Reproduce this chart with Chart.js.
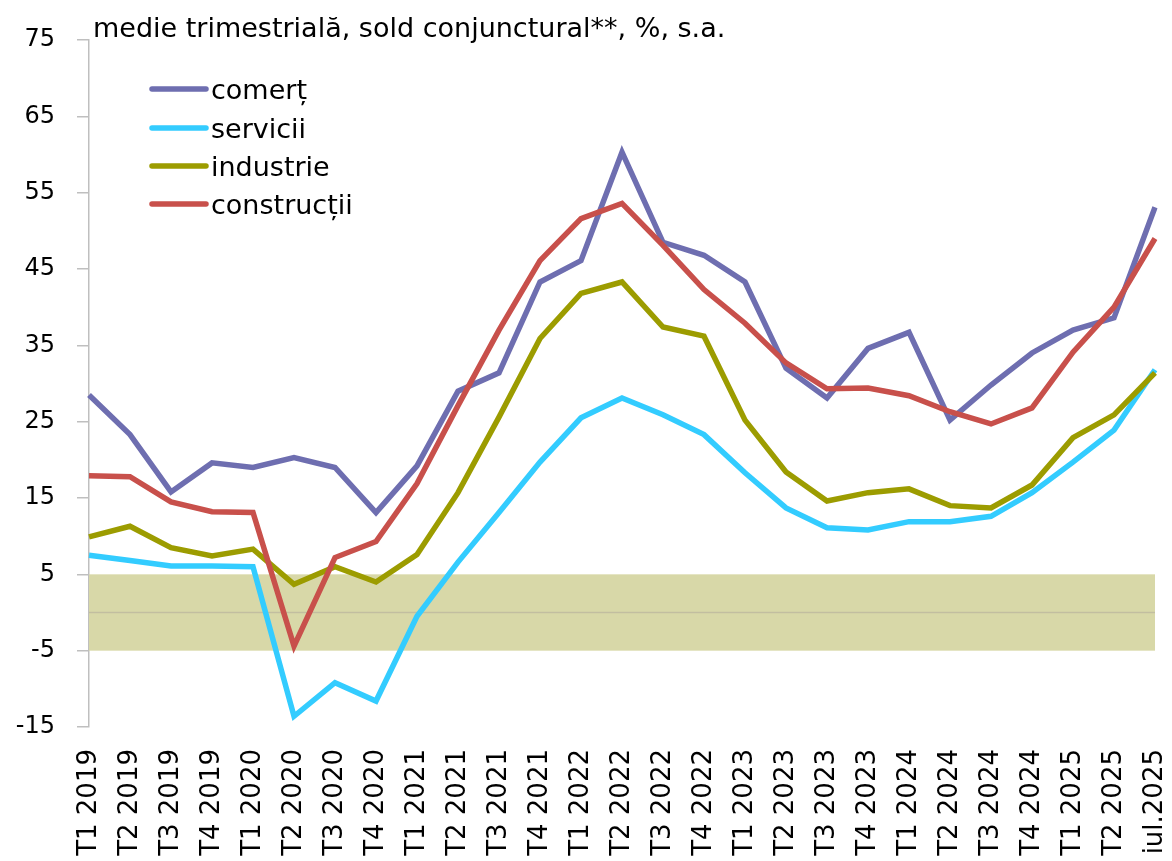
<!DOCTYPE html>
<html>
<head>
<meta charset="utf-8">
<script src="https://cdn.jsdelivr.net/npm/chart.js@4"></script>
<style>
html,body{margin:0;padding:0;background:#fff;}
#wrap{width:1172px;height:861px;position:relative;}
</style>
</head>
<body>
<div id="wrap"><canvas id="c" width="1172" height="861"></canvas></div>
<script>
const categories = ["T1 2019","T2 2019","T3 2019","T4 2019","T1 2020","T2 2020","T3 2020","T4 2020","T1 2021","T2 2021","T3 2021","T4 2021","T1 2022","T2 2022","T3 2022","T4 2022","T1 2023","T2 2023","T3 2023","T4 2023","T1 2024","T2 2024","T3 2024","T4 2024","T1 2025","T2 2025","iul.2025"];
const comert = [28.5,23.3,15.8,19.6,19.0,20.3,19.0,13.1,19.2,29.0,31.4,43.3,46.1,60.3,48.5,46.8,43.3,32.0,28.1,34.6,36.7,25.2,29.8,34.0,37.0,38.6,53.1];
const servicii = [7.5,6.8,6.1,6.1,6.0,-13.6,-9.2,-11.6,-0.5,6.6,13.1,19.7,25.5,28.1,25.9,23.3,18.3,13.7,11.1,10.8,11.9,11.9,12.6,15.7,19.7,23.9,31.8];
const industrie = [9.9,11.3,8.5,7.4,8.3,3.7,6.0,4.0,7.6,15.7,25.6,35.9,41.8,43.3,37.4,36.2,25.2,18.4,14.6,15.7,16.2,14.0,13.7,16.7,22.9,25.9,31.4];
const constructii = [17.9,17.8,14.5,13.2,13.1,-4.4,7.2,9.3,16.9,27.1,37.0,46.1,51.6,53.6,48.1,42.3,37.9,32.7,29.3,29.4,28.4,26.3,24.7,26.8,34.1,40.0,49.0];
const seriesNames = ["comerț","servicii","industrie","construcții"];
const yMin = -15, yMax = 75, yStep = 10;
const bandLow = -5, bandHigh = 5;
const titleText = "medie trimestrială, sold conjunctural**, %, s.a.";

const colors = ["#6e6eb0","#33ccff","#9c9c00","#c8504b"];
const FONT = "'DejaVu Sans', sans-serif";

const bandPlugin = {
  id: 'band',
  beforeDatasetsDraw(chart) {
    const {ctx, chartArea, scales} = chart;
    const y = scales.y;
    const yTop = y.getPixelForValue(bandHigh), yBot = y.getPixelForValue(bandLow), y0 = y.getPixelForValue(0);
    ctx.save();
    ctx.fillStyle = '#d8d8a8';
    ctx.fillRect(chartArea.left, yTop, chartArea.right - chartArea.left, yBot - yTop);
    ctx.strokeStyle = '#c2bea0';
    ctx.lineWidth = 1.5;
    ctx.beginPath();
    ctx.moveTo(chartArea.left, y0);
    ctx.lineTo(chartArea.right, y0);
    ctx.stroke();
    ctx.restore();
  }
};

const annotPlugin = {
  id: 'annot',
  afterDraw(chart) {
    const {ctx} = chart;
    ctx.save();
    ctx.fillStyle = '#000';
    ctx.font = "27px " + FONT;
    ctx.textBaseline = 'alphabetic';
    ctx.textAlign = 'left';
    ctx.fillText(titleText, 93, 37);
    const ys = [89, 128, 166, 204];
    chart.data.datasets.forEach((ds, i) => {
      ctx.strokeStyle = ds.borderColor;
      ctx.lineWidth = 5.5;
      ctx.lineCap = 'round';
      ctx.beginPath();
      ctx.moveTo(152, ys[i]);
      ctx.lineTo(206, ys[i]);
      ctx.stroke();
      ctx.fillStyle = '#000';
      ctx.font = "27px " + FONT;
      ctx.fillText(ds.label, 211, ys[i] + 10);
    });
    ctx.restore();
  }
};

const orders = [4,3,2,1];
const datasets = [comert, servicii, industrie, constructii].map((d, i) => ({
  label: seriesNames[i],
  data: d,
  borderColor: colors[i],
  backgroundColor: colors[i],
  borderWidth: 5.5,
  pointRadius: 0,
  tension: 0,
  fill: false,
  order: orders[i],
  borderJoinStyle: 'miter'
}));

new Chart(document.getElementById('c'), {
  type: 'line',
  data: { labels: categories, datasets },
  options: {
    responsive: false,
    animation: false,
    devicePixelRatio: 1,
    layout: { padding: { top: 40, right: 17, left: 0, bottom: 0 } },
    plugins: { legend: { display: false }, tooltip: { enabled: false }, title: { display: false } },
    scales: {
      x: {
        grid: { display: false, drawTicks: false },
        border: { display: false },
        ticks: {
          autoSkip: false, maxRotation: 90, minRotation: 90,
          color: '#000', font: { family: FONT, size: 26 }, padding: 22
        },
        afterFit(s) { s.height = 134; s.paddingLeft = 0; s.paddingRight = 0; }
      },
      y: {
        min: yMin, max: yMax,
        grid: { drawOnChartArea: false, drawTicks: true, tickLength: 12, tickColor: '#bfbfbf', lineWidth: 1.5 },
        border: { display: true, color: '#bfbfbf', width: 1.5 },
        ticks: { stepSize: yStep, color: '#000', font: { family: FONT, size: 24 }, padding: 22 },
        afterFit(s) { s.width = 89; s.paddingTop = 0; s.paddingBottom = 0; }
      }
    }
  },
  plugins: [bandPlugin, annotPlugin]
});
</script>
</body>
</html>
